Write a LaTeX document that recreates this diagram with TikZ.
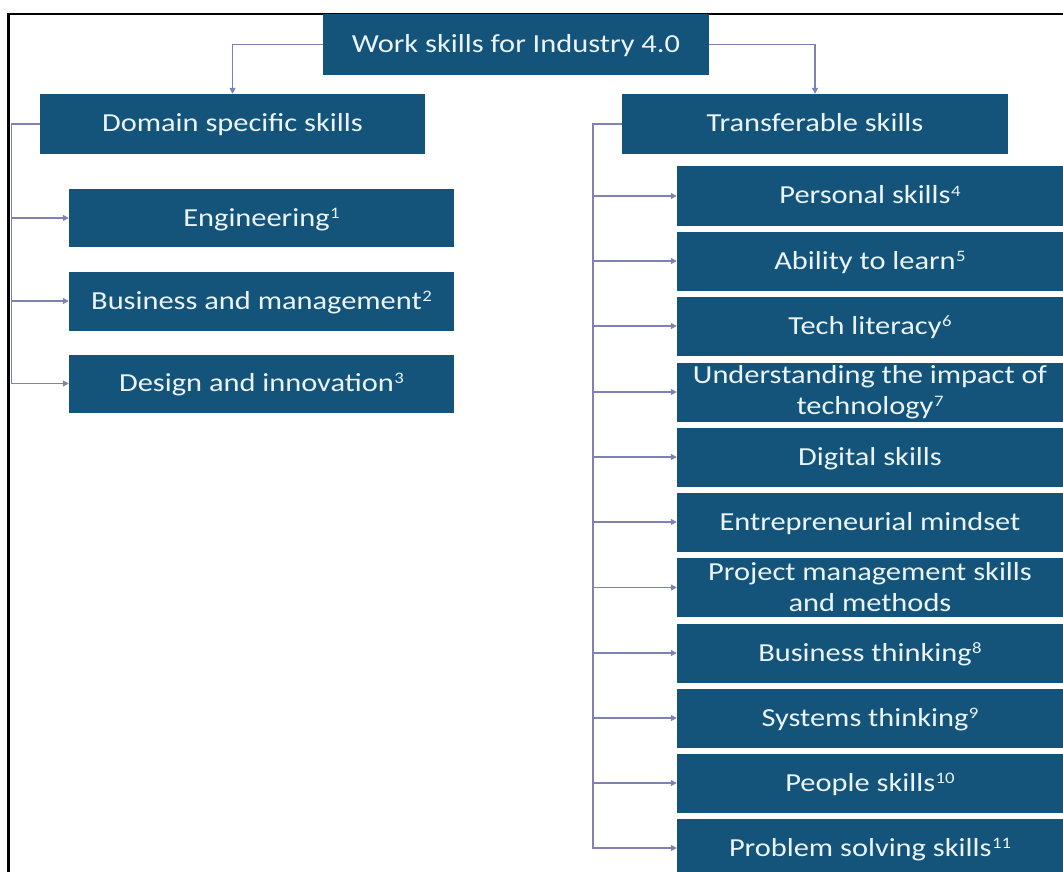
\documentclass[tikz,border=0pt]{standalone}
\usepackage{fontspec}
\setmainfont{Carlito}[FakeStretch=1.17]
\usetikzlibrary{arrows.meta}
\definecolor{boxblue}{RGB}{20,84,122}
\definecolor{boxtext}{RGB}{234,244,250}
\definecolor{linkc}{RGB}{125,130,178}
\newcommand{\fnmark}[1]{\kern0.5pt\raisebox{8pt}{\fontsize{16}{16}\selectfont #1}}
\begin{document}
\begin{tikzpicture}[x=1pt,y=-1pt,
  box/.style={fill=boxblue, text=boxtext, minimum width=386pt, minimum height=59pt,
    inner sep=0pt, font=\fontsize{26}{31}\selectfont},
  one/.style={text height=20pt, text depth=4pt},
  two/.style={align=center},
  link/.style={draw=linkc, line width=1.4pt, -{Triangle[length=6pt,width=6pt]}},
  frame/.style={draw=black, line width=2.5pt}]
\useasboundingbox (0,0) rectangle (1063,872);
\clip (0,0) rectangle (1063,872);
\draw[frame] (8.5,872) -- (8.5,14) -- (1063,14);
% top
\node[box,one,minimum height=61pt] (top) at (516,44.5) {Work skills for Industry 4.0};
\node[box,one,minimum height=60pt,minimum width=385pt] (dom) at (232.5,124) {Domain specific skills};
\node[box,one,minimum height=60pt] (tra) at (815,124) {Transferable skills};
% left children
\node[box,one,minimum width=385pt,minimum height=58pt] (eng) at (261.5,218) {Engineering\fnmark{1}};
\node[box,one,minimum width=385pt,minimum height=59pt] (bus) at (261.5,301) {Business and management\fnmark{2}};
\node[box,one,minimum width=385pt,minimum height=58pt] (des) at (261.5,383.5) {Design and innovation\fnmark{3}};
% right children
\node[box,one] (per) at (870,196) {Personal skills\fnmark{4}};
\node[box,one] (abl) at (870,261) {Ability to learn\fnmark{5}};
\node[box,one] (tec) at (870,326) {Tech literacy\fnmark{6}};
\node[box,two] (und) at (870,392) {Understanding the impact of\\technology\fnmark{7}};
\node[box,one] (dig) at (870,457) {Digital skills};
\node[box,one] (ent) at (870,522) {Entrepreneurial mindset};
\node[box,two] (prj) at (870,587.5) {Project management skills\\and methods};
\node[box,one] (bth) at (870,653) {Business thinking\fnmark{8}};
\node[box,one] (sys) at (870,718) {Systems thinking\fnmark{9}};
\node[box,one] (peo) at (870,783) {People skills\fnmark{10}};
\node[box,one] (prb) at (870,848) {Problem solving skills\fnmark{11}};
% connectors
\draw[link] (top.west) -| (dom.north);
\draw[link] (top.east) -| (tra.north);
\foreach \n in {eng,bus,des}
  \draw[link] (dom.west) -- ++(-28.5,0) |- (\n.west);
\foreach \n in {per,abl,tec,und,dig,ent,prj,bth,sys,peo,prb}
  \draw[link] (tra.west) -- ++(-29,0) |- (\n.west);
\end{tikzpicture}
\end{document}
